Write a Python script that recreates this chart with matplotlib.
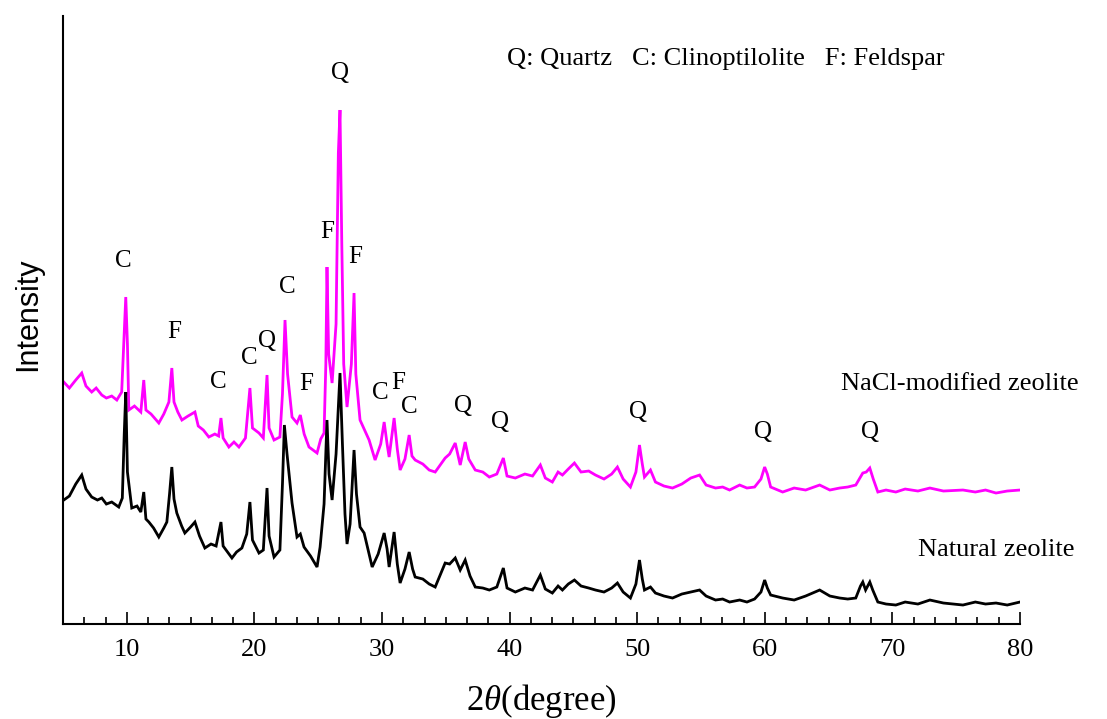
#!/usr/bin/env python3
"""XRD patterns of natural and NaCl-modified zeolite."""

import matplotlib
matplotlib.use("Agg")
import matplotlib.pyplot as plt
from matplotlib.ticker import MultipleLocator

# 2theta (degree) and intensity (arb. units)
nacl_x = [
    5.06, 5.5, 6.0, 6.47, 6.8, 7.25, 7.6, 8.04, 8.4, 8.82, 9.22, 9.6, 9.8, 9.92, 10.05,
    10.16, 10.6, 11.1, 11.33, 11.5, 11.9, 12.3, 12.51, 12.9, 13.3, 13.53, 13.7, 14.0,
    14.32, 14.8, 15.34, 15.6, 16.0, 16.43, 16.9, 17.2, 17.38, 17.55, 18.0, 18.4, 18.79,
    19.3, 19.65, 19.85, 20.36, 20.7, 20.99, 21.15, 21.54, 22.0, 22.2, 22.4, 22.6, 22.95,
    23.34, 23.6, 23.9, 24.28, 24.91, 25.2, 25.46, 25.6, 25.69, 25.82, 26.09, 26.4, 26.58,
    26.71, 26.85, 27.0, 27.26, 27.6, 27.81, 27.95, 28.28, 28.6, 28.99, 29.46, 29.9, 30.17,
    30.4, 30.56, 30.95, 31.2, 31.42, 31.8, 32.13, 32.35, 32.6, 33.2, 33.7, 34.17, 34.95,
    35.3, 35.74, 36.13, 36.52, 36.8, 37.31, 37.9, 38.41, 39.0, 39.51, 39.8, 40.45, 41.2,
    41.8, 42.41, 42.8, 43.35, 43.8, 44.14, 44.6, 45.08, 45.6, 46.2, 46.73, 47.4, 48.0,
    48.45, 48.9, 49.47, 49.9, 50.18, 50.4, 50.57, 51.04, 51.43, 52.1, 52.77, 53.5, 54.2,
    54.89, 55.4, 56.14, 56.7, 57.24, 58.03, 58.6, 59.2, 59.7, 59.99, 60.2, 60.46, 61.4,
    62.3, 63.2, 64.3, 65.1, 65.87, 66.5, 67.13, 67.68, 67.95, 68.23, 68.5, 68.86, 69.5,
    70.27, 71.0, 72.0, 72.94, 74.0, 75.53, 76.5, 77.3, 78.12, 79.0, 80.0,
]
nacl_y = [
    242, 236, 244, 251, 238, 232, 236, 229, 226, 228, 224, 232, 290, 327, 280,
    214, 218, 212, 244, 214, 210, 204, 201, 210, 222, 256, 222, 212,
    204, 208, 212, 198, 194, 187, 190, 188, 206, 186, 177, 182, 177,
    186, 236, 196, 191, 186, 249, 196, 184, 187, 230, 304, 250, 207,
    201, 209, 190, 177, 171, 185, 191, 260, 357, 270, 241, 300, 471,
    514, 380, 260, 217, 260, 331, 250, 204, 195, 184, 164, 180, 202,
    180, 167, 206, 175, 154, 165, 189, 168, 164, 160, 154, 152, 166,
    170, 181, 159, 182, 165, 154, 152, 147, 150, 166, 148, 146, 150,
    148, 159, 146, 142, 152, 149, 155, 161, 152, 153, 149, 145, 150,
    157, 145, 137, 152, 179, 160, 147, 154, 142, 138, 136, 140, 146,
    149, 139, 136, 137, 134, 139, 136, 137, 145, 157, 150, 137, 132,
    136, 134, 139, 134, 136, 137, 139, 151, 152, 156, 145, 132, 134,
    132, 135, 133, 136, 133, 134, 132, 134, 131, 133, 134,
]

natural_x = [
    5.06, 5.5, 6.0, 6.47, 6.8, 7.25, 7.7, 8.04, 8.4, 8.82, 9.37, 9.65, 9.8, 9.92, 10.05,
    10.39, 10.8, 11.1, 11.33, 11.5, 11.73, 12.1, 12.51, 12.9, 13.14, 13.35, 13.53, 13.7,
    13.92, 14.3, 14.55, 15.0, 15.34, 15.7, 16.12, 16.6, 17.0, 17.38, 17.55, 18.24, 18.6,
    19.02, 19.4, 19.65, 19.85, 20.36, 20.7, 20.99, 21.15, 21.54, 22.0, 22.2, 22.35, 22.55,
    22.95, 23.34, 23.6, 23.89, 24.4, 24.91, 25.15, 25.46, 25.69, 25.85, 26.09, 26.4, 26.55,
    26.71, 26.9, 27.1, 27.26, 27.5, 27.81, 28.0, 28.28, 28.6, 28.99, 29.23, 29.7, 30.17,
    30.4, 30.56, 30.95, 31.2, 31.42, 31.8, 32.13, 32.4, 32.6, 33.2, 33.7, 34.17, 34.95,
    35.3, 35.74, 36.13, 36.52, 36.9, 37.31, 37.9, 38.41, 39.0, 39.51, 39.8, 40.45, 41.2,
    41.8, 42.41, 42.8, 43.35, 43.8, 44.14, 44.6, 45.08, 45.6, 46.2, 46.73, 47.4, 48.0,
    48.45, 48.9, 49.47, 49.9, 50.18, 50.4, 50.57, 51.04, 51.43, 52.1, 52.77, 53.5, 54.2,
    54.89, 55.4, 56.14, 56.7, 57.24, 58.03, 58.6, 59.2, 59.7, 59.99, 60.2, 60.46, 61.4,
    62.3, 63.2, 64.3, 65.1, 65.87, 66.5, 67.13, 67.5, 67.68, 67.9, 68.23, 68.46, 68.86,
    69.5, 70.27, 71.0, 72.0, 72.94, 74.0, 75.53, 76.5, 77.3, 78.12, 79.0, 80.0,
]
natural_y = [
    124, 128, 140, 149, 135, 127, 124, 126, 120, 122, 117, 126, 190, 232, 152,
    116, 118, 112, 132, 105, 102, 96, 87, 96, 102, 130, 157, 125,
    111, 98, 91, 97, 102, 88, 76, 80, 78, 102, 78, 66, 72,
    76, 90, 122, 84, 71, 74, 136, 88, 67, 74, 140, 199, 171,
    121, 87, 90, 77, 68, 57, 77, 120, 204, 150, 124, 170, 210,
    251, 180, 110, 80, 100, 174, 130, 97, 91, 70, 57, 70, 91,
    75, 57, 92, 60, 41, 55, 72, 55, 47, 45, 40, 37, 61,
    60, 66, 54, 64, 48, 37, 36, 34, 37, 56, 36, 32, 36,
    34, 49, 35, 31, 38, 34, 40, 44, 38, 36, 34, 32, 36,
    41, 32, 26, 40, 64, 45, 34, 37, 31, 28, 26, 30, 32,
    34, 28, 24, 25, 22, 24, 22, 25, 32, 44, 36, 29, 26,
    24, 28, 34, 28, 26, 25, 26, 38, 42, 34, 42, 34, 22,
    20, 19, 22, 20, 24, 21, 19, 22, 20, 21, 19, 22,
]

# phase labels above the peaks
peak_labels = ["C", "F", "C", "C", "Q", "C", "F", "F", "Q", "F", "C", "F", "C",
               "Q", "Q", "Q", "Q", "Q"]
peak_label_x = [9.76, 13.69, 17.2, 19.57, 21.0, 22.56, 24.05, 25.69, 26.71, 27.9,
                29.85, 31.3, 32.13, 36.37, 39.27, 50.1, 59.83, 68.23]
peak_label_y = [363, 292, 242, 266, 283, 337, 240, 392, 551, 367,
                231, 241, 217, 218, 202, 212, 192, 192]


def main() -> None:
    plt.rcParams["font.family"] = ["Liberation Serif", "DejaVu Serif"]
    plt.rcParams["mathtext.fontset"] = "custom"
    plt.rcParams["mathtext.rm"] = "Liberation Serif"
    plt.rcParams["mathtext.it"] = "Liberation Serif:italic"

    fig = plt.figure(figsize=(11.07, 7.19), dpi=100)
    ax = fig.add_axes([0.0569, 0.1321, 0.8645, 0.8456])

    ax.plot(nacl_x, nacl_y, color="#ff00ff", lw=2.0, solid_joinstyle="miter")
    ax.plot(natural_x, natural_y, color="black", lw=2.0, solid_joinstyle="miter")

    for lab, x, y in zip(peak_labels, peak_label_x, peak_label_y):
        ax.text(x, y, lab, ha="center", va="center", fontsize=18)

    ax.text(39.8, 565, "Q: Quartz   C: Clinoptilolite   F: Feldspar",
            ha="left", va="center", fontsize=19)
    ax.text(66.0, 240, "NaCl-modified zeolite", ha="left", va="center", fontsize=19)
    ax.text(72.0, 74, "Natural zeolite", ha="left", va="center", fontsize=19)

    ax.set_xlim(5, 80)
    ax.set_ylim(0, 608)
    ax.xaxis.set_major_locator(MultipleLocator(10))
    ax.xaxis.set_minor_locator(MultipleLocator(10 / 6))
    ax.set_yticks([])
    ax.tick_params(axis="x", which="major", direction="in", length=9, width=1.2,
                   labelsize=19, pad=11)
    ax.tick_params(axis="x", which="minor", direction="in", length=5, width=1.2)

    for side in ("top", "right"):
        ax.spines[side].set_visible(False)
    for side in ("left", "bottom"):
        ax.spines[side].set_linewidth(1.5)

    ax.set_xlabel(r"2$\theta$(degree)", fontsize=25, labelpad=15)
    ax.set_ylabel("Intensity", fontsize=22, family="Liberation Sans")
    ax.yaxis.set_label_coords(-0.021, 0.51)

    fig.savefig("out.png", dpi=100)
    plt.close(fig)


if __name__ == "__main__":
    main()
